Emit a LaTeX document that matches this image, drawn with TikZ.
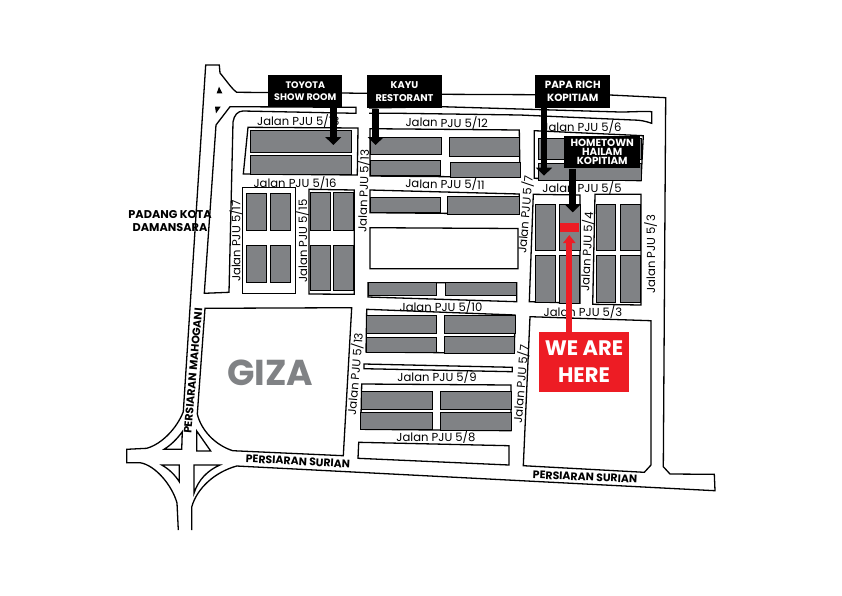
\documentclass[tikz,border=0pt]{standalone}
\usepackage{fontspec}
\usetikzlibrary{arrows.meta}
\newfontfamily\mapfont{Poppins}
\definecolor{Lot}{RGB}{128,130,133}
\definecolor{Here}{RGB}{237,28,36}
\tikzset{
  road/.style={draw=black,line width=1.3pt,line join=miter},
  lot/.style={draw=black,fill=Lot,line width=1pt},
  street/.style={font=\mapfont\fontsize{11.6}{12}\selectfont,inner sep=0pt},
  bigroad/.style={font=\mapfont\bfseries\fontsize{10.9}{11}\selectfont,inner sep=0pt},
  shop/.style={fill=black,text=white,align=center,inner sep=0pt,font=\mapfont\bfseries\fontsize{7.6}{10}\selectfont},
  pointer/.style={draw=black,line width=6.5pt,-{Triangle[width=15.7pt,length=8pt]}},
}
\begin{document}
\begin{tikzpicture}[x=1pt,y=-1pt]
\useasboundingbox (0,0) rectangle (842,595);
% outer roads
\draw[road] (178.3,530)--(177,503) .. controls (172,485) and (155,465) .. (140,462.7)--(126.7,462.7)--(126.7,449.3)--(146.7,448.3) .. controls (162,444) and (177,428) .. (183.3,411.7)--(205.7,65)--(219.3,65)--(220,73) .. controls (226,80) and (231,88) .. (236.7,92.3)--(342,93)--(441.7,94.3)--(610,95)--(665.7,97.7)--(663.3,466.7)--(670,474)--(714.3,474.3)--(715,490.7)--(236.7,466) .. controls (215,472) and (197,488) .. (191.7,507)--(191.7,530);
% strips along the top
\draw[road] (356,113.3)--(356,107.3)--(230,106.7)--(216,125)--(204.3,293.3)--(229,292.3)--(233,122) .. controls (234,115) and (238,111) .. (243,111)--cycle;
\draw[road] (369,108)--(441.7,106.7)--(620,112) .. controls (632,112) and (645,111) .. (651.7,111.7)--(651.7,123.3) .. controls (645,121) and (640,120) .. (633,120)--(520,115)--(400,113.3)--(369,113.3);
\fill (219,86.7)--(216.7,93.3)--(222.3,93.3)--cycle;
\fill (215,106.7)--(220.7,106.7)--(216,113.3)--cycle;
% Giza
\draw[road] (205,308.3)--(351.7,307.7)--(343.3,455.7)--(232.7,450.7) .. controls (215,445) and (201,430) .. (197.3,414)--cycle;
% interchange islands
\draw[road] (182.3,431.7)--(181.7,449.3)--(164,449.3) .. controls (171,445) and (177,439) .. (182.3,431.7)--cycle;
\draw[road] (196.7,431)--(210.7,451)--(196.7,451)--cycle;
\draw[road] (161.7,465)--(179.3,465)--(179.3,481.7) .. controls (175,475) and (169,469) .. (161.7,465)--cycle;
\draw[road] (194,465)--(220,465) .. controls (208,470) and (198,480) .. (194,493.3)--cycle;
% block outlines
\draw[road] (248,127.3)--(358,128)--(357.3,175)--(243.3,174)--cycle;
\draw[road] (242.3,187.3)--(295.3,187.3)--(295.3,293.3)--(242.3,293.3)--cycle;
\draw[road] (309,189.3)--(354.3,190)--(354.3,294.3)--(309,294)--cycle;
\draw[road] (370,128.7)--(519.3,130)--(520,177.3)--(370,176)--cycle;
\draw[road] (370,190)--(519.3,194)--(519.3,214)--(370,212.7)--cycle;
\draw[road,fill=white] (370,227.7)--(518,228.5)--(518,268.7)--(370,268.7)--cycle;
\draw[road] (368,282.7)--(516.7,282.7)--(516.7,301.7)--(368,297)--cycle;
\draw[road] (366.7,309.3)--(515,315)--(514.3,353.3)--(366,352)--cycle;
\draw[road] (364,364)--(512.3,367.3)--(512.3,371.7)--(364,368.7)--cycle;
\draw[road] (361.7,384)--(511,385)--(511,430.7)--(360.7,429.3)--cycle;
\draw[road] (358.7,442.3)--(509,445.7)--(509,465)--(358,458.3)--cycle;
\draw[road] (533.3,194.3)--(580,195)--(580,303.3)--(529.3,301.7)--cycle;
\draw[road] (595,194.3)--(641,194.3)--(641,305)--(592.7,304.3)--cycle;
\draw[road] (534.3,130.7)--(643.3,135.7)--(641,180.7)--(534.3,178.3)--cycle;
\draw[road] (530,316.7)--(651,320.7)--(651,465)--(644.3,472.3)--(523.3,465.7)--cycle;
% shop lots
\foreach \xa/\ya/\xb/\yb in {250/130/351.7/152.3,250/155.7/351.7/174,
  246/193.3/266.7/230.7,270/193.3/290.7/230.7,246/245/266.7/282.3,270/245/290.7/282.3,
  310/192.7/330/230.7,333.3/192.7/353.7/230.7,310/245.7/330/290.7,333.3/245.7/353.7/290.7,
  370/137/441.7/154,449.3/137.3/519.3/156,370.7/160.7/440/175.7,450.7/162.3/520/177.3,
  370/197.7/440.7/212.7,447.7/196.7/519.3/214,368/282.7/436.7/295,445.3/282.7/516.7/295.3,
  366.7/315/436.7/333.3,444/315/515/333.3,366/337.3/436.7/352,444/336.7/514.3/353.3,
  361.7/391.7/432.3/409,440.7/391.7/511/409,360.7/412.3/432.3/429.3,440.7/412.3/511/430.7,
  535.3/204/555/250.7,559.3/204/580/250.7,535.3/255.7/555/302.3,559.3/255.7/579/303.3,
  596.7/204/615.7/250.7,620.3/204/640/250.7,596.7/255.7/615.7/302.3,620.3/255.7/640/302.3,
  538.3/138.7/641/159,538.3/163.3/641/180}
  \draw[lot] (\xa,\ya) rectangle (\xb,\yb);
% street names
\node[street] (j13a) at (298.3,120.7) {Jalan PJU 5/13};
\node[street,rotate=-1] (j12) at (446.7,122.7) {Jalan PJU 5/12};
\node[street] (j6) at (582,127) {Jalan PJU 5/6};
\node[street] (j16) at (295,182.7) {Jalan PJU 5/16};
\node[street,rotate=-1] (j11) at (445,184) {Jalan PJU 5/11};
\node[street] (j5) at (582,187.7) {Jalan PJU 5/5};
\node[street,rotate=90] (j17) at (236,241) {Jalan PJU 5/17};
\node[street,rotate=90] (j15) at (302.7,241) {Jalan PJU 5/15};
\node[street,rotate=88] (j13b) at (363.3,191) {Jalan PJU 5/13};
\node[street,rotate=85] (j7a) at (525,214.5) {Jalan PJU 5/7};
\node[street,rotate=87] (j4) at (586.7,251.7) {Jalan PJU 5/4};
\node[street,rotate=90] (j3a) at (650.7,254) {Jalan PJU 5/3};
\node[street] (j10) at (441,306.7) {Jalan PJU 5/10};
\node[street] (j3b) at (583,311.7) {Jalan PJU 5/3};
\node[street,rotate=85] (j13c) at (355,374) {Jalan PJU 5/13};
\node[street,rotate=85] (j7b) at (520.7,384) {Jalan PJU 5/7};
\node[street] (j9) at (437,376.7) {Jalan PJU 5/9};
\node[street] (j8) at (436,437.3) {Jalan PJU 5/8};
\node[bigroad,rotate=85] (mahogani) at (193,371) {PERSIARAN MAHOGANI};
\node[bigroad,rotate=-3] (suriana) at (298,461.3) {PERSIARAN SURIAN};
\node[bigroad,rotate=-2.5] (surianb) at (585,477) {PERSIARAN SURIAN};
\node[bigroad,align=center,font=\mapfont\bfseries\fontsize{11.3}{13}\selectfont] (padang) at (170,221.5) {PADANG KOTA\\DAMANSARA};
\node[inner sep=0pt,text=Lot,font=\mapfont\bfseries\fontsize{36}{36}\selectfont] (giza) at (270.5,372.5) {GIZA};
% pointers
\coordinate (toyotatip) at (333.3,145);
\coordinate (kayutip) at (375.7,145);
\coordinate (papatip) at (544,175.7);
\coordinate (hailamtip) at (572.7,212.3);
\coordinate (heretip) at (569.3,235);
\node[shop,minimum width=74pt,minimum height=32.3pt,font=\mapfont\bfseries\fontsize{9.5}{12.5}\selectfont] (toyota) at (305.3,91.2) {TOYOTA\\SHOW ROOM};
\node[shop,minimum width=74.4pt,minimum height=33.3pt,font=\mapfont\bfseries\fontsize{9.8}{12.5}\selectfont] (kayu) at (404.5,91.7) {KAYU\\RESTORANT};
\node[shop,minimum width=74.7pt,minimum height=32.7pt,font=\mapfont\bfseries\fontsize{10.4}{13.5}\selectfont] (papa) at (572.7,91.4) {PAPA RICH\\KOPITIAM};
\draw[pointer] (toyota.south-|toyotatip)--(toyotatip);
\draw[pointer] (kayu.south-|kayutip)--(kayutip);
\draw[pointer] (papa.south-|papatip)--(papatip);
\node[shop,minimum width=75.7pt,minimum height=32.6pt,font=\mapfont\bfseries\fontsize{10.3}{9.2}\selectfont] (hailam) at (602.2,152) {HOMETOWN\\HAILAM\\KOPITIAM};
\draw[pointer] (hailam.south-|hailamtip)--(hailamtip);
% we are here
\node[fill=Here,inner sep=0pt,minimum width=19.3pt,minimum height=9pt] (herebar) at (569.7,227.8) {};
\node[fill=Here,text=white,align=center,inner sep=0pt,minimum width=90pt,minimum height=60pt,font=\mapfont\bfseries\fontsize{21}{27}\selectfont] (herebox) at (584,361.7) {WE ARE\\HERE};
\draw[draw=Here,line width=5.7pt,-{Triangle[width=12pt,length=8pt]}] (herebox.north-|heretip)--(heretip);
\end{tikzpicture}
\end{document}
